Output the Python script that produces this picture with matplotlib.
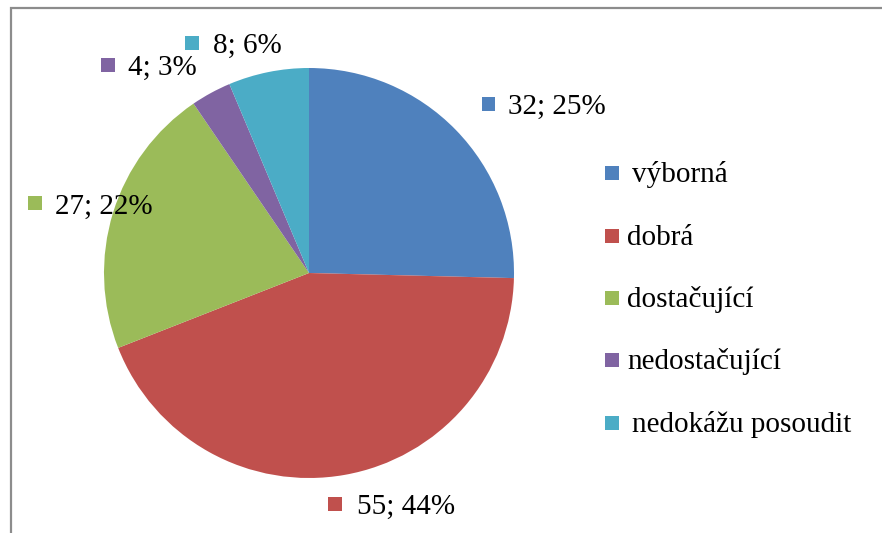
import matplotlib
matplotlib.use("Agg")
import matplotlib.pyplot as plt
from matplotlib.patches import Rectangle

categories = ["výborná", "dobrá", "dostačující", "nedostačující", "nedokážu posoudit"]
counts = [32, 55, 27, 4, 8]
percent_labels = ["25%", "44%", "22%", "3%", "6%"]
colors = ["#4F81BD", "#C0504D", "#9BBB59", "#8064A2", "#4BACC6"]

W, H = 882, 533
DPI = 100
fig = plt.figure(figsize=(W / DPI, H / DPI), dpi=DPI)
fig.patch.set_facecolor("white")

FONT = "Liberation Serif"
FS = 21

def fx(x):
    return x / W

def fy(y):
    return 1 - y / H

# outer frame (right and bottom edges cut off in the reference)
fig.add_artist(Rectangle((fx(11), fy(560)), fx(900 - 11), (560 - 8) / H,
                         transform=fig.transFigure, fill=False,
                         edgecolor="#8c8c8c", linewidth=1.6))

# pie
cx, cy, r = 309, 273, 205
ax = fig.add_axes([fx(cx - r), fy(cy + r), 2 * r / W, 2 * r / H])
ax.pie(counts, colors=colors, startangle=90, counterclock=False,
       wedgeprops=dict(linewidth=0), radius=1.0)
ax.set_xlim(-1, 1)
ax.set_ylim(-1, 1)
ax.set_aspect("auto")
ax.axis("off")

# data labels: (square centre x, y, text x) in pixels
label_pos = [(488.5, 103.5, 508), (335, 504, 357), (35, 203.5, 55),
             (107.5, 65, 128), (191.5, 43, 213)]
sq = 14
for (sx, sy, tx), n, p, c in zip(label_pos, counts, percent_labels, colors):
    fig.add_artist(Rectangle((fx(sx - sq / 2), fy(sy + sq / 2)), sq / W, sq / H,
                             transform=fig.transFigure, facecolor=c,
                             edgecolor="none"))
    fig.text(fx(tx), fy(sy + 10), f"{n}; {p}", family=FONT, fontsize=FS,
             ha="left", va="baseline", color="black")

# legend
leg_sq_x = 612
leg_rows = [173, 236, 298, 360, 423]
leg_text_x = [632, 627, 627, 627, 632]
for cat, c, yy, tx in zip(categories, colors, leg_rows, leg_text_x):
    fig.add_artist(Rectangle((fx(leg_sq_x - sq / 2), fy(yy + sq / 2)), sq / W, sq / H,
                             transform=fig.transFigure, facecolor=c,
                             edgecolor="none"))
    fig.text(fx(tx), fy(yy + 9), cat, family=FONT, fontsize=FS,
             ha="left", va="baseline", color="black")

fig.savefig("out.png", dpi=DPI, facecolor="white")
